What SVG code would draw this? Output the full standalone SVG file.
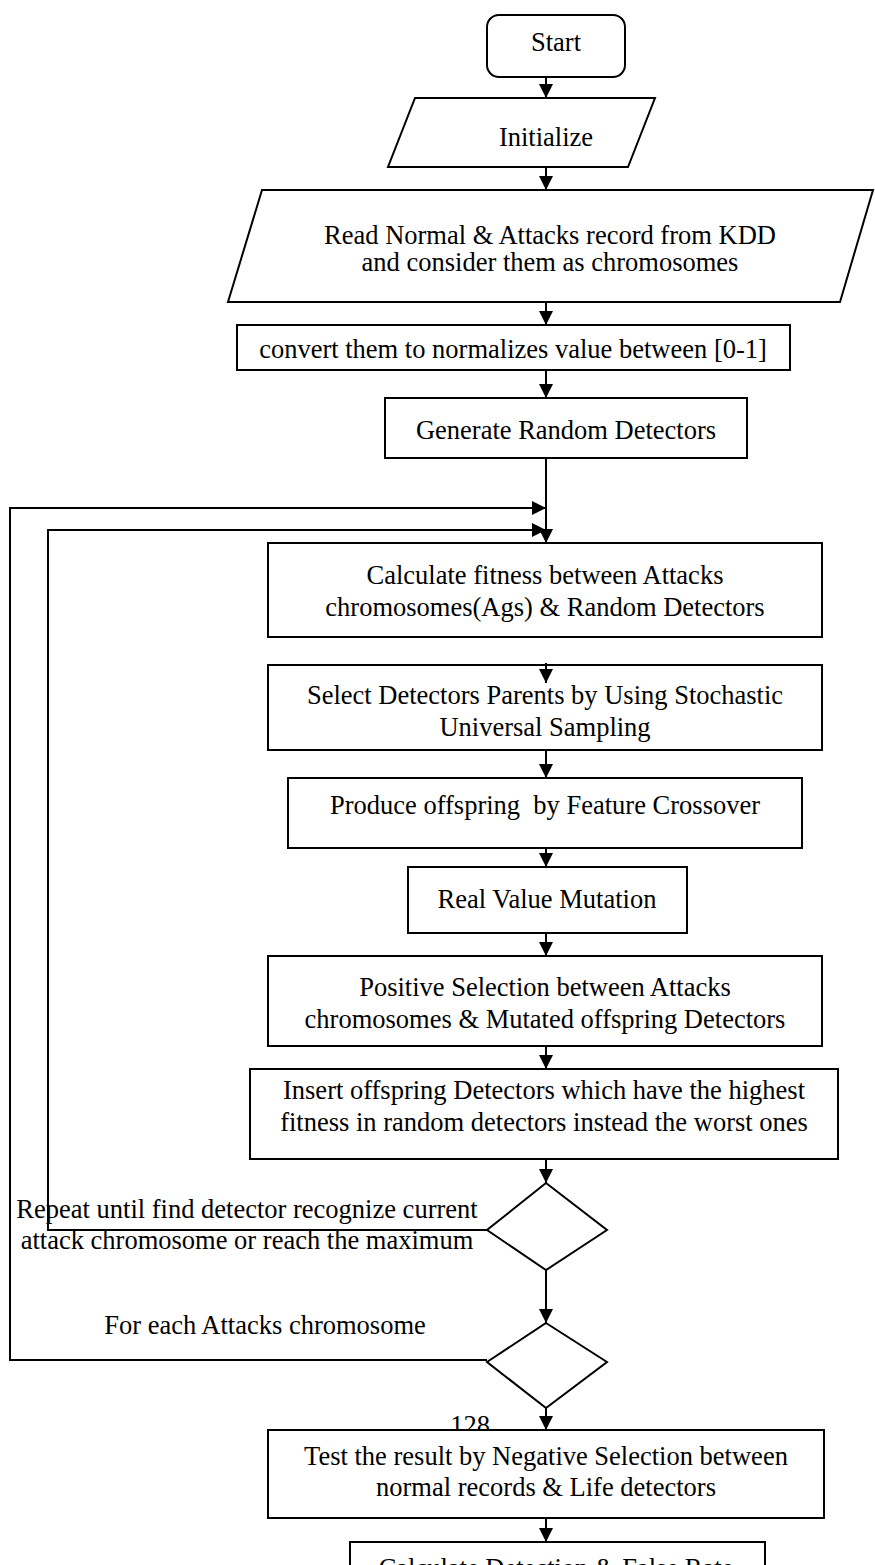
<svg xmlns="http://www.w3.org/2000/svg" width="875" height="1565" viewBox="0 0 875 1565">
  <style>
    .box { fill: #fff; stroke: #000; stroke-width: 2; }
    .lbl { font-family: "Liberation Serif", "Times New Roman", serif; font-size: 26.5px; fill: #000; text-anchor: middle; }
    .wire { fill: none; stroke: #000; stroke-width: 2; }
  </style>
  <defs>
    <marker id="arrow" markerUnits="userSpaceOnUse" markerWidth="15" markerHeight="15" refX="14" refY="7" orient="auto">
      <path d="M0,0 L14,7 L0,14 z" fill="#000"/>
    </marker>
  </defs>

  <rect width="875" height="1565" fill="#fff"/>

  <!-- page number sitting behind the test box -->
  <text class="lbl" x="470" y="1434">128</text>

  <!-- connectors -->
  <g id="connectors">
    <line class="wire" x1="546" y1="77" x2="546" y2="98" marker-end="url(#arrow)"/>
    <line class="wire" x1="546" y1="167" x2="546" y2="190" marker-end="url(#arrow)"/>
    <line class="wire" x1="546" y1="302" x2="546" y2="325" marker-end="url(#arrow)"/>
    <line class="wire" x1="546" y1="370" x2="546" y2="398" marker-end="url(#arrow)"/>
    <line class="wire" x1="546" y1="458" x2="546" y2="543" marker-end="url(#arrow)"/>
    <polyline class="wire" points="487,1360 10,1360 10,508 546,508" marker-end="url(#arrow)"/>
    <polyline class="wire" points="487,1230 48,1230 48,530 546,530" marker-end="url(#arrow)"/>
    <line class="wire" x1="546" y1="750" x2="546" y2="778" marker-end="url(#arrow)"/>
    <line class="wire" x1="546" y1="848" x2="546" y2="867" marker-end="url(#arrow)"/>
    <line class="wire" x1="546" y1="933" x2="546" y2="956" marker-end="url(#arrow)"/>
    <line class="wire" x1="546" y1="1046" x2="546" y2="1069" marker-end="url(#arrow)"/>
    <line class="wire" x1="546" y1="1159" x2="546" y2="1183" marker-end="url(#arrow)"/>
    <line class="wire" x1="546" y1="1270" x2="546" y2="1323" marker-end="url(#arrow)"/>
    <line class="wire" x1="546" y1="1408" x2="546" y2="1430" marker-end="url(#arrow)"/>
    <line class="wire" x1="546" y1="1518" x2="546" y2="1542" marker-end="url(#arrow)"/>
  </g>

  <g id="start">
    <rect class="box" x="487" y="15" width="138" height="62" rx="12"/>
    <text class="lbl" x="556" y="51">Start</text>
  </g>

  <g id="initialize">
    <polygon class="box" points="415,98 655,98 628,167 388,167"/>
    <text class="lbl" x="546" y="146">Initialize</text>
  </g>

  <g id="read-records">
    <polygon class="box" points="262,190 873,190 840,302 228,302"/>
    <text class="lbl" x="550" y="244">Read Normal &amp; Attacks record from KDD</text>
    <text class="lbl" x="550" y="271">and consider them as chromosomes</text>
  </g>

  <g id="normalize">
    <rect class="box" x="237" y="325" width="553" height="45"/>
    <text class="lbl" x="513" y="358">convert them to normalizes value between [0-1]</text>
  </g>

  <g id="generate">
    <rect class="box" x="385" y="398" width="362" height="60"/>
    <text class="lbl" x="566" y="439">Generate Random Detectors</text>
  </g>

  <g id="fitness">
    <rect class="box" x="268" y="543" width="554" height="94"/>
    <text class="lbl" x="545" y="584">Calculate fitness between Attacks</text>
    <text class="lbl" x="545" y="616">chromosomes(Ags) &amp; Random Detectors</text>
  </g>

  <g id="select-parents">
    <rect class="box" x="268" y="665" width="554" height="85"/>
    <text class="lbl" x="545" y="704">Select Detectors Parents by Using Stochastic</text>
    <text class="lbl" x="545" y="736">Universal Sampling</text>
    <line class="wire" x1="546" y1="663" x2="546" y2="683" marker-end="url(#arrow)"/>
  </g>

  <g id="crossover">
    <rect class="box" x="288" y="778" width="514" height="70"/>
    <text class="lbl" x="545" y="814" xml:space="preserve">Produce offspring  by Feature Crossover</text>
  </g>

  <g id="mutation">
    <rect class="box" x="408" y="867" width="279" height="66"/>
    <text class="lbl" x="547" y="908">Real Value Mutation</text>
  </g>

  <g id="positive-selection">
    <rect class="box" x="268" y="956" width="554" height="90"/>
    <text class="lbl" x="545" y="996">Positive Selection between Attacks</text>
    <text class="lbl" x="545" y="1028">chromosomes &amp; Mutated offspring Detectors</text>
  </g>

  <g id="insert">
    <rect class="box" x="250" y="1069" width="588" height="90"/>
    <text class="lbl" x="544" y="1099">Insert offspring Detectors which have the highest</text>
    <text class="lbl" x="544" y="1131">fitness in random detectors instead the worst ones</text>
  </g>

  <g id="repeat-check">
    <polygon class="box" points="546,1183 607,1230 546,1270 487,1230"/>
    <text class="lbl" x="247" y="1218">Repeat until find detector recognize current</text>
    <text class="lbl" x="247" y="1249">attack chromosome or reach the maximum</text>
  </g>

  <g id="each-attack">
    <polygon class="box" points="546,1323 607,1362 546,1408 487,1362"/>
    <text class="lbl" x="265" y="1334">For each Attacks chromosome</text>
  </g>

  <g id="negative-selection">
    <rect class="box" x="268" y="1430" width="556" height="88"/>
    <text class="lbl" x="546" y="1465">Test the result by Negative Selection between</text>
    <text class="lbl" x="546" y="1496">normal records &amp; Life detectors</text>
  </g>

  <g id="rates">
    <rect class="box" x="350" y="1542" width="415" height="40"/>
    <text class="lbl" x="556" y="1577">Calculate Detection &amp; False Rate</text>
  </g>
</svg>
